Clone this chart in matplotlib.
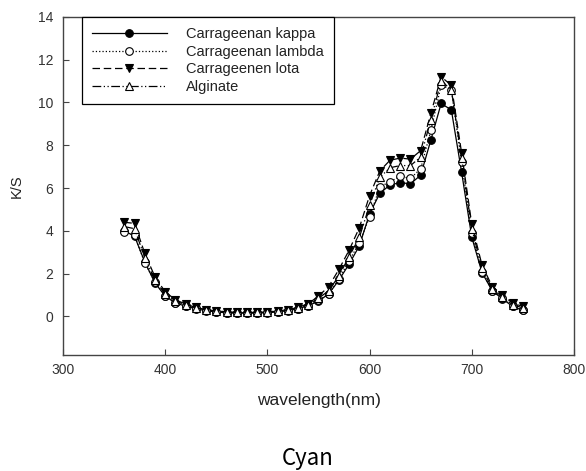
import matplotlib
matplotlib.use("Agg")
import matplotlib.pyplot as plt
import numpy as np

wavelength = list(range(360, 751, 10))

kappa = [4.0, 3.75, 2.55, 1.57, 0.95, 0.63, 0.48, 0.36, 0.27, 0.21,
         0.17, 0.16, 0.16, 0.16, 0.18, 0.21, 0.27, 0.36, 0.5, 0.72,
         1.05, 1.7, 2.45, 3.3, 4.8, 5.75, 6.15, 6.25, 6.2, 6.6,
         8.25, 9.95, 9.65, 6.75, 3.7, 2.05, 1.2, 0.82, 0.47, 0.28]
lambda_ = [3.95, 3.8, 2.5, 1.6, 0.95, 0.65, 0.5, 0.38, 0.28, 0.22,
           0.18, 0.17, 0.17, 0.17, 0.19, 0.22, 0.28, 0.37, 0.5, 0.75,
           1.05, 1.75, 2.6, 3.45, 4.65, 6.05, 6.3, 6.55, 6.45, 6.9,
           8.7, 10.8, 10.6, 7.2, 3.9, 2.1, 1.2, 0.85, 0.5, 0.3]
iota = [4.4, 4.35, 2.95, 1.85, 1.15, 0.78, 0.58, 0.42, 0.32, 0.26,
        0.22, 0.2, 0.2, 0.2, 0.22, 0.25, 0.32, 0.42, 0.6, 0.95,
        1.4, 2.2, 3.1, 4.15, 5.65, 6.8, 7.3, 7.4, 7.35, 7.75,
        9.5, 11.2, 10.8, 7.65, 4.3, 2.4, 1.4, 1.0, 0.62, 0.47]
alginate = [4.2, 4.1, 2.75, 1.7, 1.05, 0.72, 0.55, 0.4, 0.3, 0.24,
            0.2, 0.19, 0.19, 0.19, 0.2, 0.24, 0.3, 0.4, 0.55, 0.85,
            1.2, 1.9, 2.8, 3.7, 5.2, 6.5, 6.95, 7.05, 7.05, 7.45,
            9.2, 11.0, 10.6, 7.4, 4.1, 2.25, 1.3, 0.9, 0.55, 0.4]

labels = ["Carrageenan kappa", "Carrageenan lambda", "Carrageenen lota", "Alginate"]
x_ticks = [300, 400, 500, 600, 700, 800]
y_ticks = [0, 2, 4, 6, 8, 10, 12, 14]

plt.rcParams['font.family'] = ['Liberation Sans', 'DejaVu Sans']

fig = plt.figure(figsize=(5.86, 4.71), dpi=100)
ax = fig.add_axes([0.1075, 0.2463, 0.872, 0.718])

lw = 0.9
ms = 5.5
ax.plot(wavelength, kappa, color='black', linestyle='-', linewidth=lw,
        marker='o', markersize=ms, markerfacecolor='black', markeredgecolor='black',
        markeredgewidth=0.8, label=labels[0])
ax.plot(wavelength, lambda_, color='black', linestyle=':', linewidth=lw,
        marker='o', markersize=ms, markerfacecolor='white', markeredgecolor='black',
        markeredgewidth=0.8, label=labels[1])
ax.plot(wavelength, iota, color='black', linestyle=(0, (6, 3)), linewidth=lw,
        marker='v', markersize=ms + 0.5, markerfacecolor='black', markeredgecolor='black',
        markeredgewidth=0.8, label=labels[2])
ax.plot(wavelength, alginate, color='black', linestyle=(0, (7, 2, 1, 2, 1, 2)), linewidth=lw,
        marker='^', markersize=ms + 0.5, markerfacecolor='white', markeredgecolor='black',
        markeredgewidth=0.8, label=labels[3])

ax.set_xlim(300, 800)
ax.set_ylim(-1.8, 14)
ax.set_xticks(x_ticks)
ax.set_yticks(y_ticks)

for s in ax.spines.values():
    s.set_color('#444444')
    s.set_linewidth(1.0)

ax.tick_params(direction='in', length=4, width=0.8, colors='#444444',
               labelcolor='#333333', labelsize=10)
ax.tick_params(axis='x', pad=5.5)
ax.tick_params(axis='y', pad=7)

ax.set_xlabel('wavelength(nm)', fontsize=12.5, color='#222222', labelpad=12)
ax.set_ylabel('K/S', fontsize=10.5, color='#222222', labelpad=10)

leg = ax.legend(loc='upper left', bbox_to_anchor=(0.0366, 1.0), borderaxespad=0,
                fontsize=10.5, handlelength=5.15, handletextpad=1.3, labelspacing=0.25,
                borderpad=0.7, fancybox=False, framealpha=1, edgecolor='black')
leg.get_frame().set_linewidth(0.9)
for t in leg.get_texts():
    t.set_color('#222222')

fig.text(0.5247, 0.0127, 'Cyan', ha='center', va='baseline',
         fontsize=16, family=['Noto Sans CJK KR', 'DejaVu Sans'], color='black')

fig.savefig('out.png', dpi=100)
